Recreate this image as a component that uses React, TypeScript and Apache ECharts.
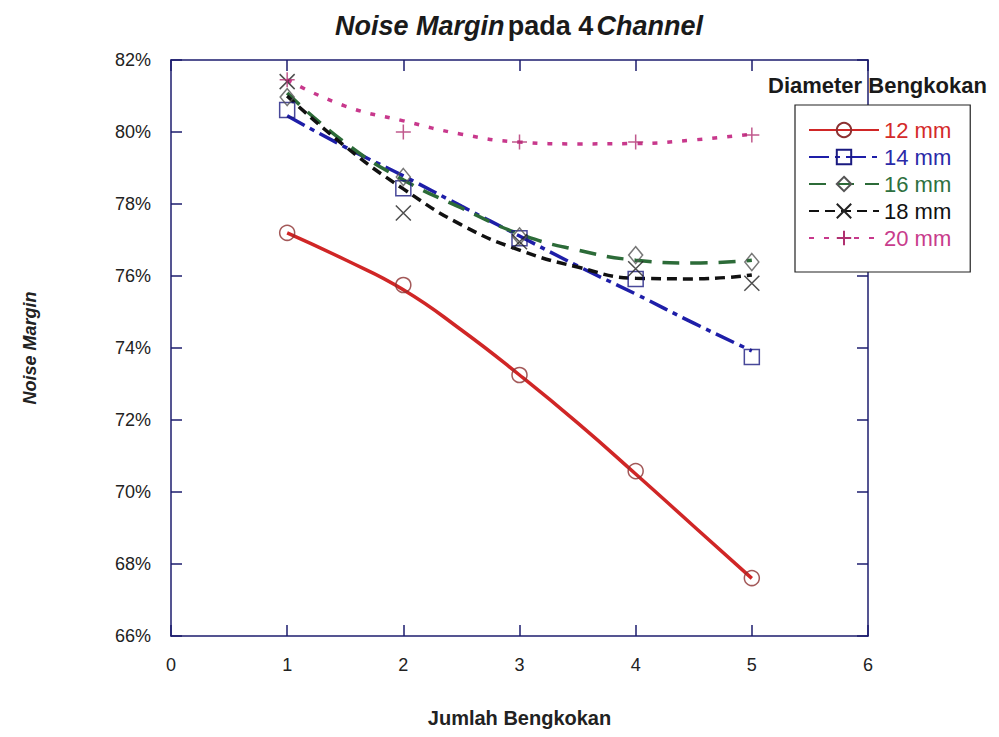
import React, { useEffect, useRef } from "react";
import * as echarts from "echarts";

const seriesNames = ["12 mm", "14 mm", "16 mm", "18 mm", "20 mm"];
const xPoints = [1, 2, 3, 4, 5];
const pts12 = [77.2, 75.75, 73.25, 70.58, 67.61];
const pts14 = [80.61, 78.44, 77.05, 75.92, 73.75];
const pts16 = [80.97, 78.75, 77.1, 76.58, 76.39];
const pts18 = [81.4, 77.75, 76.95, 76.2, 75.8];
const pts20 = [81.45, 80.0, 79.72, 79.72, 79.92];

const xCurve = [1, 1.5, 2, 2.5, 3, 3.5, 4, 4.5, 5];
const curve12 = [77.2, 76.45, 75.62, 74.5, 73.25, 71.92, 70.5, 69.05, 67.6];
const curve14 = [80.45, 79.58, 78.78, 77.94, 77.11, 76.28, 75.5, 74.69, 73.92];
const curve16 = [81.08, 79.7, 78.67, 77.89, 77.17, 76.72, 76.44, 76.36, 76.44];
const curve18 = [81.0, 79.6, 78.42, 77.42, 76.72, 76.25, 75.94, 75.92, 76.03];
const curve20 = [81.45, 80.72, 80.31, 79.94, 79.72, 79.67, 79.68, 79.78, 79.94];

const yTicks = { min: 66, max: 82, step: 2 };
const xTicks = { min: 0, max: 6, step: 1 };

const AXIS = "#1c1c6e";
const FONT = "'Liberation Sans', Arial, sans-serif";

const lineColors = ["#d02626", "#1e1ea8", "#2c6b38", "#111111", "#c8388c"];
const textColors = ["#d42a2a", "#2a2aa8", "#2e7040", "#111111", "#c83c8c"];
const markerColors = ["#8c3030", "#1a1a80", "#555555", "#222222", "#b03070"];
const dashes: any[] = ["solid", [20, 6, 5, 6], [17, 11], [10, 6], [5, 10]];
const symbols = [
  "circle",
  "rect",
  "diamond",
  "path://M0,0L10,10M10,0L0,10",
  "path://M5,0L5,10M0,5L10,5",
];
const symbolSizes: any[] = [15, 15, [14, 17], 15, 15];

export default function App() {
  const ref = useRef<HTMLDivElement>(null);
  useEffect(() => {
    if (!ref.current) return;
    const chart = echarts.init(ref.current, undefined, { renderer: "svg" });
    const curves = [curve12, curve14, curve16, curve18, curve20];
    const pts = [pts12, pts14, pts16, pts18, pts20];
    const lineSeries = seriesNames.map((name, i) => ({
      name,
      type: "line",
      smooth: true,
      showSymbol: false,
      symbol: symbols[i],
      symbolSize: symbolSizes[i],
      data: xCurve.map((x, j) => [x, curves[i][j]]),
      lineStyle: { color: lineColors[i], width: 3.5, type: dashes[i] },
      itemStyle: {
        color: "rgba(0,0,0,0)",
        borderColor: markerColors[i],
        borderWidth: 1.5,
      },
      z: 2,
    }));
    const scatterSeries = seriesNames.map((name, i) => ({
      name: name + " data",
      type: "scatter",
      symbol: symbols[i],
      symbolSize: symbolSizes[i],
      data: xPoints.map((x, j) => [x, pts[i][j]]),
      itemStyle: {
        color: "rgba(0,0,0,0)",
        borderColor: markerColors[i],
        borderWidth: 1.5,
      },
      z: 3,
    }));
    const axisCommon = {
      axisLine: { show: true, onZero: false, lineStyle: { color: AXIS, width: 1.5 } },
      axisTick: { show: true, inside: true, length: 11, lineStyle: { color: AXIS, width: 1.5 } },
      splitLine: { show: false },
    };
    chart.setOption({
      animation: false,
      backgroundColor: "#ffffff",
      grid: { left: 171, top: 60, right: 131, bottom: 101 },
      xAxis: [
        {
          type: "value",
          min: xTicks.min,
          max: xTicks.max,
          interval: xTicks.step,
          position: "bottom",
          ...axisCommon,
          axisLabel: { color: "#222", fontSize: 18, fontFamily: FONT, margin: 20 },
          name: "Jumlah Bengkokan",
          nameLocation: "middle",
          nameGap: 72,
          nameTextStyle: { color: "#222", fontSize: 20, fontWeight: "bold", fontFamily: FONT },
        },
        {
          type: "value",
          min: xTicks.min,
          max: xTicks.max,
          interval: xTicks.step,
          position: "top",
          ...axisCommon,
          axisLabel: { show: false },
        },
      ],
      yAxis: [
        {
          type: "value",
          min: yTicks.min,
          max: yTicks.max,
          interval: yTicks.step,
          position: "left",
          ...axisCommon,
          axisLabel: {
            color: "#222",
            fontSize: 18,
            fontFamily: FONT,
            margin: 20,
            formatter: "{value}%",
          },
          name: "Noise Margin",
          nameLocation: "middle",
          nameGap: 132,
          nameRotate: 90,
          nameTextStyle: {
            color: "#222",
            fontSize: 18,
            fontWeight: "bold",
            fontStyle: "italic",
            fontFamily: FONT,
          },
        },
        {
          type: "value",
          min: yTicks.min,
          max: yTicks.max,
          interval: yTicks.step,
          position: "right",
          ...axisCommon,
          axisLabel: { show: false },
        },
      ],
      legend: {
        orient: "vertical",
        left: 795,
        top: 105,
        padding: [14, 19, 23, 13],
        itemGap: 5,
        itemWidth: 70,
        itemHeight: 18,
        borderColor: "#222",
        borderWidth: 1.2,
        backgroundColor: "#fff",
        textStyle: { fontSize: 22, fontFamily: FONT },
        data: seriesNames.map((n, i) => ({ name: n, textStyle: { color: textColors[i] } })),
      },
      graphic: [
        {
          type: "text",
          x: 519,
          y: 26,
          style: {
            text: "{i|Noise Margin} {b|pada 4} {i|Channel}",
            align: "center",
            verticalAlign: "middle",
            rich: {
              i: { fontSize: 27, fontWeight: "bold", fontStyle: "italic", fontFamily: FONT, fill: "#1a1a1a" },
              b: { fontSize: 27, fontWeight: "bold", fontFamily: FONT, fill: "#1a1a1a" },
            },
          },
        },
        {
          type: "text",
          x: 768,
          y: 85,
          z: 10,
          style: {
            text: "Diameter Bengkokan",
            verticalAlign: "middle",
            fontSize: 22,
            fontWeight: "bold",
            fontFamily: FONT,
            fill: "#1a1a1a",
          },
        },
      ],
      series: [...lineSeries, ...scatterSeries],
    } as any);
    return () => chart.dispose();
  }, []);
  return <div ref={ref} style={{ width: 999, height: 737, margin: -8 }} />;
}
